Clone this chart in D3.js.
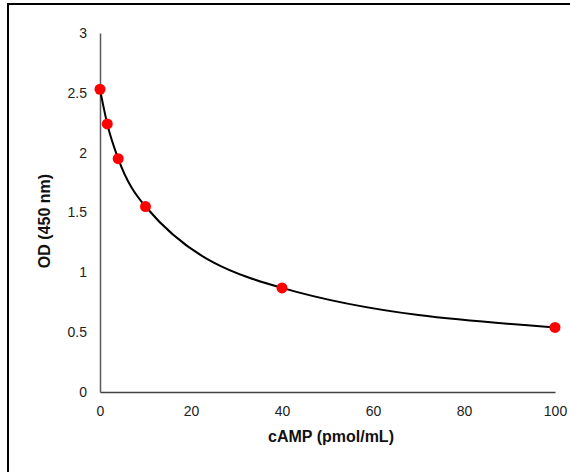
<!DOCTYPE html>
<html><head><meta charset="utf-8">
<script src="https://cdn.jsdelivr.net/npm/d3@7"></script>
<style>body{margin:0;background:#fff}svg{display:block}</style>
</head><body>
<script>
const camp = [0, 1.6, 4, 10, 40, 100];
const od = [2.53, 2.24, 1.95, 1.55, 0.87, 0.54];
const xTicks = [0, 20, 40, 60, 80, 100];
const yTicks = [0, 0.5, 1, 1.5, 2, 2.5, 3];

const W = 570, H = 472;
const svg = d3.select("body").append("svg").attr("width", W).attr("height", H);
svg.append("rect").attr("width", W).attr("height", H).attr("fill", "#fff");
svg.append("rect").attr("x", 8).attr("y", 4).attr("width", 700).attr("height", 700)
  .attr("fill", "none").attr("stroke", "#000").attr("stroke-width", 2);

const x = d3.scaleLinear().domain([0, 100]).range([100, 555]);
const y = d3.scaleLinear().domain([0, 3]).range([392, 33]);

const font = "'Liberation Sans', Arial, sans-serif";

const xAxis = svg.append("g").attr("transform", `translate(0,${y(0)})`)
  .call(d3.axisBottom(x).tickValues(xTicks).tickSize(0).tickPadding(14).tickFormat(d3.format("d")));
xAxis.select(".domain").attr("stroke", "#404040").attr("stroke-width", 1.5);
xAxis.selectAll("text").attr("font-family", font).attr("font-size", 14).attr("fill", "#222");

const yAxis = svg.append("g").attr("transform", `translate(${x(0)},0)`)
  .call(d3.axisLeft(y).tickValues(yTicks).tickSize(0).tickPadding(13).tickFormat(d => String(d)));
yAxis.select(".domain").attr("stroke", "#595959").attr("stroke-width", 1.5);
yAxis.selectAll("text").attr("font-family", font).attr("font-size", 14).attr("fill", "#222");

const data = camp.map((c, i) => ({c, v: od[i]}));
svg.append("path").datum(data)
  .attr("fill", "none").attr("stroke", "#000").attr("stroke-width", 2)
  .attr("d", d3.line().x(d => x(d.c)).y(d => y(d.v)).curve(d3.curveMonotoneX));

svg.selectAll("circle.pt").data(data).join("circle").attr("class", "pt")
  .attr("cx", d => x(d.c)).attr("cy", d => y(d.v)).attr("r", 5.5).attr("fill", "#ff0000");

svg.append("text").attr("x", 331).attr("y", 442).attr("text-anchor", "middle")
  .attr("font-family", font).attr("font-weight", "bold").attr("font-size", 16).attr("fill", "#111")
  .text("cAMP (pmol/mL)");
svg.append("text").attr("transform", "translate(50,221) rotate(-90)").attr("text-anchor", "middle")
  .attr("font-family", font).attr("font-weight", "bold").attr("font-size", 16).attr("fill", "#111")
  .text("OD (450 nm)");
</script>
</body></html>
